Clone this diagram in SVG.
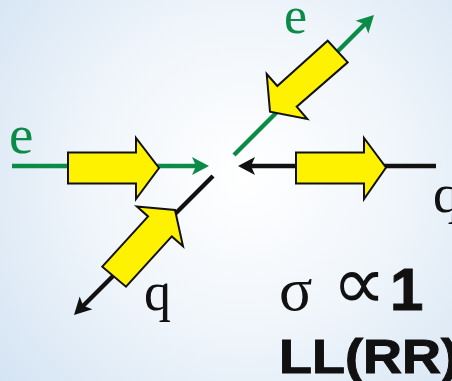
<svg xmlns="http://www.w3.org/2000/svg" width="452" height="381" viewBox="0 0 452 381">
  <defs>
    <radialGradient id="bg" cx="245" cy="175" r="330" gradientUnits="userSpaceOnUse">
      <stop offset="0" stop-color="#ffffff"/>
      <stop offset="0.45" stop-color="#f1f6fb"/>
      <stop offset="1" stop-color="#d3e3f3"/>
    </radialGradient>
    <marker id="ahG" markerUnits="userSpaceOnUse" markerWidth="40" markerHeight="40" refX="0" refY="0" orient="auto" overflow="visible">
      <path d="M12,0 L-5,-9 L-1,0 L-5,9 Z" fill="#0b8c46"/>
    </marker>
    <marker id="ahK" markerUnits="userSpaceOnUse" markerWidth="40" markerHeight="40" refX="0" refY="0" orient="auto" overflow="visible">
      <path d="M12,0 L-5,-9 L-1,0 L-5,9 Z" fill="#111111"/>
    </marker>
    <style>
      .g { stroke: #0b8c46; stroke-width: 4.5; fill: none; }
      .k { stroke: #111111; stroke-width: 4.5; fill: none; }
      .spin { fill: #fff200; stroke: #111111; stroke-width: 2; stroke-linejoin: miter; }
      .serif { font-family: "Liberation Serif", "DejaVu Serif", serif; }
      .bold { font-family: "Liberation Sans", Arial, sans-serif; font-weight: bold; fill: #111111; }
    </style>
  </defs>
  <rect x="0" y="0" width="452" height="381" fill="url(#bg)"/>

  <g id="connectors">
    <path class="g" d="M12,166 L197,166" marker-end="url(#ahG)"/>
    <path class="k" d="M436,166 L250,166" marker-end="url(#ahK)"/>
    <path class="g" d="M234,155 L365.5,23.5" marker-end="url(#ahG)"/>
    <path class="k" d="M213,176 L82.5,306.5" marker-end="url(#ahK)"/>
  </g>

  <g id="spin-e-in">
    <polygon class="spin" points="68,152.5 136,152.5 136,138 159,168 136,199 136,183.5 68,183.5"/>
  </g>
  <g id="spin-q-in">
    <polygon class="spin" points="296,152.5 364,152.5 364,138 386,167.5 364,199 364,183.5 296,183.5"/>
  </g>
  <g id="spin-e-out">
    <polygon class="spin" points="327.7,40.7 347.7,62.3 296.7,106.7 307.3,119 270,111.7 266.7,74 277.3,86"/>
  </g>
  <g id="spin-q-out">
    <polygon class="spin" points="102.3,266.7 148.1,216.4 136.9,206.5 175,210 183,246.3 171.8,236.4 126,286.7"/>
  </g>

  <g id="labels">
    <text class="serif" x="9" y="152.5" font-size="55" fill="#0b8c46">e</text>
    <text class="serif" x="284" y="33" font-size="52" fill="#0b8c46">e</text>
    <text class="serif" x="144" y="310" font-size="54" fill="#111111">q</text>
    <text class="serif" x="433" y="212" font-size="54" fill="#111111">q</text>
    <text class="serif" x="279" y="310" font-size="62" fill="#111111">σ</text>
    <text x="332" y="309" font-size="76" fill="#111111" font-family="'DejaVu Sans', sans-serif">∝</text>
    <text class="bold" x="390" y="310" font-size="60" stroke="#111111" stroke-width="1">1</text>
    <text class="bold" x="279" y="373" font-size="48" stroke="#111111" stroke-width="1" textLength="180" lengthAdjust="spacingAndGlyphs">LL(RR)</text>
  </g>
</svg>
